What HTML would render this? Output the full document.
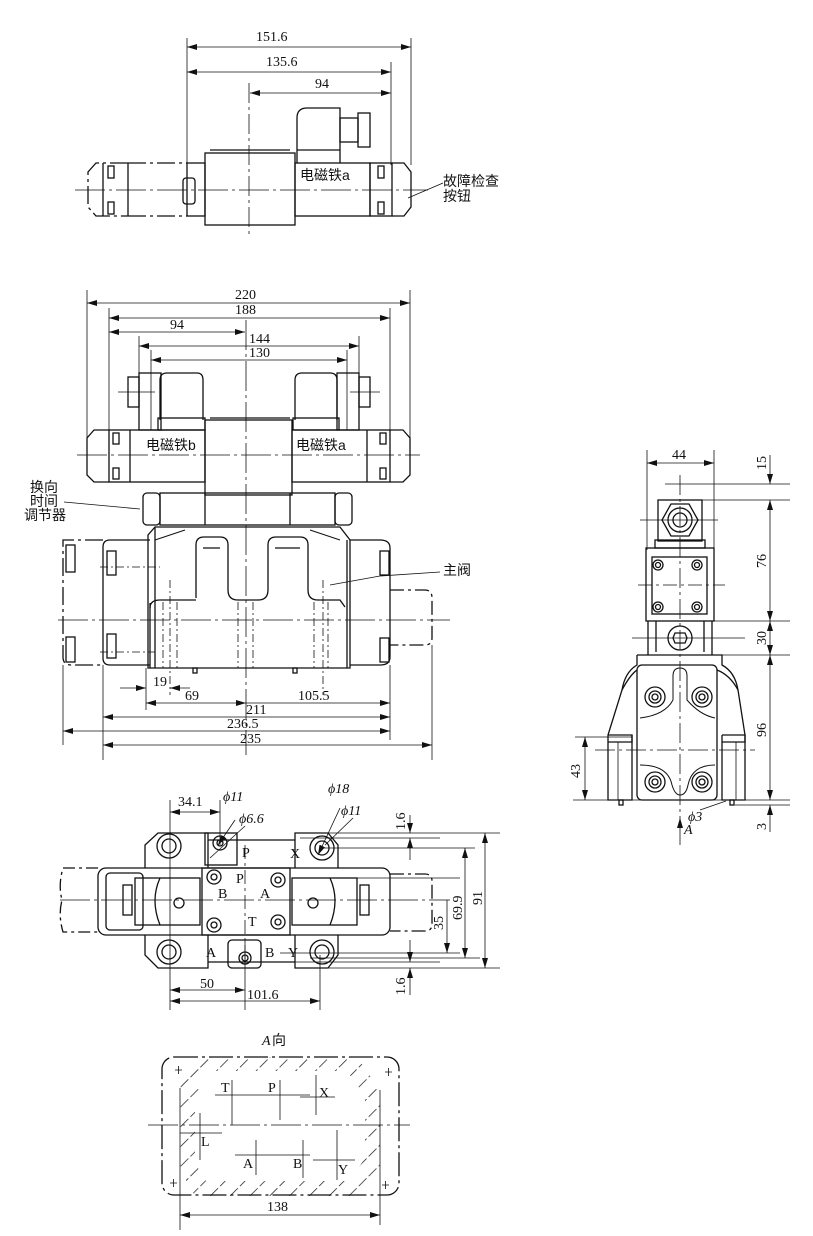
<!DOCTYPE html>
<html><head><meta charset="utf-8"><style>
html,body{margin:0;padding:0;background:#fff}
svg{display:block}
text{font-family:"Liberation Serif","Noto Serif CJK SC",serif;font-size:14px;fill:#111}
.cn{font-family:"Liberation Sans","Noto Sans CJK SC",sans-serif;font-size:14px}
</style></head><body>
<svg width="813" height="1236" viewBox="0 0 813 1236" xmlns="http://www.w3.org/2000/svg">
<defs>
<marker id="a" viewBox="0 0 10 6" refX="10" refY="3" markerWidth="10" markerHeight="6" orient="auto-start-reverse" markerUnits="userSpaceOnUse"><path d="M0,0 L10,3 L0,6 z" fill="#111"/></marker>
<pattern id="h" width="14" height="14" patternUnits="userSpaceOnUse" patternTransform="rotate(45)"><line x1="0" y1="0" x2="0" y2="14" stroke="#111" stroke-width="1.4" stroke-dasharray="11 3"/></pattern>
</defs>
<g fill="none" stroke="#111" stroke-width="1.3">

<!-- ===== TOP VIEW ===== -->
<g stroke-width="0.8">
<line x1="187" y1="38" x2="187" y2="165"/><line x1="411" y1="38" x2="411" y2="165"/>
<line x1="391" y1="62" x2="391" y2="165"/>
<line x1="187" y1="47" x2="411" y2="47" marker-start="url(#a)" marker-end="url(#a)"/>
<line x1="187" y1="72" x2="391" y2="72" marker-start="url(#a)" marker-end="url(#a)"/>
<line x1="250" y1="93" x2="391" y2="93" marker-start="url(#a)" marker-end="url(#a)"/>
<line x1="249" y1="83" x2="249" y2="235" stroke-dasharray="20 4 3 4"/>
<line x1="75" y1="190" x2="428" y2="190" stroke-dasharray="30 4 3 4"/>
<line x1="443" y1="183" x2="408" y2="198"/>
</g>
<path d="M128,163 L96,163 L88,172 L88,207 L96,216 L128,216" stroke-dasharray="18 4 3 4"/>
<line x1="128" y1="163" x2="187" y2="163" stroke-dasharray="18 4 3 4"/>
<line x1="128" y1="216" x2="187" y2="216" stroke-dasharray="18 4 3 4"/>
<line x1="103" y1="163" x2="103" y2="216"/><line x1="128" y1="163" x2="128" y2="216"/>
<rect x="108" y="166" width="6" height="12"/><rect x="108" y="202" width="6" height="12"/>
<rect x="187" y="163" width="18" height="53"/>
<rect x="183" y="178" width="12" height="26" rx="3"/>
<rect x="205" y="153" width="90" height="72"/>
<line x1="210" y1="150" x2="290" y2="150"/>
<path d="M297,163 L297,118 Q297,108 307,108 L340,108 L340,163"/>
<line x1="297" y1="150" x2="340" y2="150"/>
<rect x="340" y="118" width="18" height="24"/><rect x="358" y="113" width="12" height="34"/>
<rect x="295" y="163" width="75" height="53"/>
<rect x="370" y="163" width="22" height="53"/>
<rect x="378" y="166" width="6" height="12"/><rect x="378" y="202" width="6" height="12"/>
<path d="M392,163 L404,163 L411,172 L411,207 L404,216 L392,216"/>

<!-- ===== FRONT VIEW ===== -->
<g stroke-width="0.8">
<line x1="87" y1="290" x2="87" y2="460"/><line x1="410" y1="290" x2="410" y2="460"/>
<line x1="109" y1="308" x2="109" y2="430"/><line x1="390" y1="308" x2="390" y2="430"/>
<line x1="139" y1="336" x2="139" y2="430"/><line x1="359" y1="336" x2="359" y2="430"/>
<line x1="151" y1="350" x2="151" y2="430"/><line x1="347" y1="350" x2="347" y2="430"/>
<line x1="87" y1="303" x2="410" y2="303" marker-start="url(#a)" marker-end="url(#a)"/>
<line x1="109" y1="318" x2="390" y2="318" marker-start="url(#a)" marker-end="url(#a)"/>
<line x1="109" y1="332" x2="245" y2="332" marker-start="url(#a)" marker-end="url(#a)"/>
<line x1="139" y1="346" x2="359" y2="346" marker-start="url(#a)" marker-end="url(#a)"/>
<line x1="151" y1="360" x2="347" y2="360" marker-start="url(#a)" marker-end="url(#a)"/>
<line x1="246" y1="320" x2="246" y2="755" stroke-dasharray="30 4 3 4"/>
<line x1="77" y1="455" x2="420" y2="455" stroke-dasharray="30 4 3 4"/>
<line x1="58" y1="620" x2="450" y2="620" stroke-dasharray="30 4 3 4"/>
<line x1="118" y1="392" x2="155" y2="392"/><line x1="350" y1="392" x2="380" y2="392"/>
<line x1="64" y1="502" x2="140" y2="509"/>
<line x1="380" y1="576" x2="330" y2="585"/><line x1="380" y1="576" x2="440" y2="572"/>
</g>
<path d="M109,430 L94,430 L87,438 L87,475 L94,482 L109,482"/>
<rect x="109" y="430" width="96" height="52"/>
<line x1="130" y1="430" x2="130" y2="482"/>
<rect x="113" y="433" width="6" height="11"/><rect x="113" y="468" width="6" height="11"/>
<rect x="292" y="430" width="98" height="52"/>
<line x1="367" y1="430" x2="367" y2="482"/>
<rect x="380" y="433" width="6" height="11"/><rect x="380" y="468" width="6" height="11"/>
<path d="M390,430 L403,430 L410,438 L410,475 L403,482 L390,482"/>
<rect x="205" y="420" width="87" height="75"/>
<line x1="210" y1="418" x2="290" y2="418"/>
<rect x="139" y="373" width="22" height="57"/>
<path d="M160,420 L160,380 Q160,373 167,373 L197,373 Q203,373 203,380 L203,420"/>
<rect x="158" y="418" width="47" height="12"/>
<rect x="128" y="377" width="11" height="30"/>
<path d="M295,420 L295,380 Q295,373 302,373 L330,373 Q337,373 337,380 L337,420"/>
<rect x="293" y="418" width="46" height="12"/>
<rect x="337" y="373" width="22" height="57"/>
<rect x="359" y="377" width="11" height="30"/>
<text x="146" y="450" class="cn" stroke="none">电磁铁b</text>
<text x="296" y="450" class="cn" stroke="none">电磁铁a</text>
<text x="300" y="180" class="cn" stroke="none">电磁铁a</text>
<rect x="143" y="493" width="17" height="32" rx="4"/>
<rect x="335" y="493" width="17" height="32" rx="4"/>
<rect x="160" y="493" width="175" height="32"/>
<line x1="205" y1="493" x2="205" y2="525"/><line x1="290" y1="493" x2="290" y2="525"/>
<path d="M103,540 L63,540 Q63,540 63,548 L63,657 Q63,665 71,665 L103,665" stroke-dasharray="18 4 3 4"/>
<rect x="66" y="545" width="9" height="27"/><rect x="66" y="637" width="9" height="25"/>
<path d="M150,665 L110,665 Q103,665 103,658 L103,547 Q103,540 110,540 L150,540"/>
<rect x="107" y="551" width="9" height="24"/><rect x="107" y="634" width="9" height="24"/>
<path d="M148,668 L148,535 L155,527 L340,527 L350,540 L350,668 Z"/>
<line x1="155" y1="527" x2="155" y2="668"/>
<path d="M155,540 L185,530 M340,540 L310,530" stroke-width="1"/>
<path d="M196,598 L196,545 Q196,537 204,537 L220,537 Q228,537 228,545 L228,590 Q228,600 238,600 L258,600 Q268,600 268,590 L268,545 Q268,537 276,537 L300,537 Q308,537 308,545 L308,590 Q308,600 318,600 L340,600 L345,607"/>
<line x1="203" y1="548" x2="220" y2="548"/><line x1="275" y1="548" x2="300" y2="548"/>
<path d="M150,608 Q150,600 160,600 L196,600"/>
<line x1="150" y1="603" x2="150" y2="668"/>
<path d="M350,540 L380,540 Q390,540 390,548 L390,657 Q390,665 380,665 L350,665"/>
<line x1="347" y1="540" x2="347" y2="668"/>
<rect x="380" y="551" width="9" height="24"/><rect x="380" y="638" width="9" height="24"/>
<path d="M390,590 L425,590 Q432,590 432,598 L432,638 Q432,645 425,645 L390,645" stroke-dasharray="14 4 3 4"/>
<g stroke-width="0.8" stroke-dasharray="8 3 2 3">
<line x1="163" y1="602" x2="163" y2="668"/><line x1="177" y1="602" x2="177" y2="668"/>
<line x1="238" y1="602" x2="238" y2="668"/><line x1="253" y1="602" x2="253" y2="668"/>
<line x1="314" y1="602" x2="314" y2="668"/><line x1="328" y1="602" x2="328" y2="668"/>
<line x1="170" y1="580" x2="170" y2="695"/><line x1="323" y1="580" x2="323" y2="695"/>
<line x1="100" y1="567" x2="160" y2="567"/><line x1="100" y1="652" x2="155" y2="652"/>
</g>
<rect x="193" y="668" width="4" height="5"/><rect x="293" y="668" width="4" height="5"/>
<g stroke-width="0.8">
<line x1="146" y1="668" x2="146" y2="710"/><line x1="103" y1="665" x2="103" y2="760"/>
<line x1="390" y1="665" x2="390" y2="740"/><line x1="432" y1="645" x2="432" y2="760"/><line x1="63" y1="665" x2="63" y2="745"/>
<line x1="120" y1="688" x2="146" y2="688" marker-end="url(#a)"/><line x1="170" y1="688" x2="190" y2="688" marker-start="url(#a)"/>
<line x1="146" y1="703" x2="246" y2="703" marker-start="url(#a)" marker-end="url(#a)"/>
<line x1="246" y1="703" x2="390" y2="703" marker-end="url(#a)"/>
<line x1="103" y1="717" x2="390" y2="717" marker-start="url(#a)" marker-end="url(#a)"/>
<line x1="63" y1="731" x2="390" y2="731" marker-start="url(#a)" marker-end="url(#a)"/>
<line x1="103" y1="745" x2="432" y2="745" marker-start="url(#a)" marker-end="url(#a)"/>
</g>

<!-- ===== SIDE VIEW ===== -->
<g stroke-width="0.8">
<line x1="647" y1="450" x2="647" y2="550"/><line x1="714" y1="450" x2="714" y2="550"/>
<line x1="647" y1="463" x2="714" y2="463" marker-start="url(#a)" marker-end="url(#a)"/>
<line x1="665" y1="484" x2="790" y2="484"/><line x1="680" y1="500" x2="790" y2="500"/>
<line x1="714" y1="621" x2="790" y2="621"/><line x1="722" y1="655" x2="790" y2="655"/>
<line x1="573" y1="800" x2="790" y2="800"/><line x1="735" y1="805" x2="790" y2="805"/>
<line x1="770" y1="455" x2="770" y2="484" marker-end="url(#a)"/>
<line x1="770" y1="500" x2="770" y2="621" marker-start="url(#a)" marker-end="url(#a)"/>
<line x1="770" y1="621" x2="770" y2="655" marker-start="url(#a)" marker-end="url(#a)"/>
<line x1="770" y1="655" x2="770" y2="800" marker-start="url(#a)" marker-end="url(#a)"/>
<line x1="770" y1="805" x2="770" y2="832" marker-start="url(#a)"/>
<line x1="575" y1="737" x2="632" y2="737"/>
<line x1="585" y1="737" x2="585" y2="800" marker-start="url(#a)" marker-end="url(#a)"/>
<line x1="680" y1="475" x2="680" y2="825" stroke-dasharray="20 4 3 4"/>
<line x1="640" y1="520" x2="718" y2="520"/><line x1="638" y1="585" x2="725" y2="585" stroke-dasharray="14 4 3 4"/>
<line x1="632" y1="638" x2="745" y2="638"/>
<line x1="595" y1="750" x2="755" y2="750" stroke-dasharray="20 4 3 4"/>
<line x1="700" y1="810" x2="726" y2="801"/>
<line x1="680" y1="845" x2="680" y2="818" marker-end="url(#a)"/>
</g>
<rect x="658" y="500" width="44" height="41"/>
<polygon points="671,504 689,504 698,520 689,536 671,536 662,520"/>
<circle cx="680" cy="520" r="12"/><circle cx="680" cy="520" r="7"/>
<rect x="655" y="540" width="50" height="8"/>
<rect x="646" y="548" width="68" height="73"/>
<rect x="652" y="557" width="55" height="57"/>
<circle cx="658" cy="565" r="5"/><circle cx="658" cy="565" r="2.5"/>
<circle cx="697" cy="565" r="5"/><circle cx="697" cy="565" r="2.5"/>
<circle cx="658" cy="607" r="5"/><circle cx="658" cy="607" r="2.5"/>
<circle cx="697" cy="607" r="5"/><circle cx="697" cy="607" r="2.5"/>
<path d="M648,621 L648,655 M656,621 L656,652 M704,621 L704,652 M712,621 L712,655"/>
<circle cx="680" cy="638" r="12"/><polygon points="675,633 685,633 687,638 685,643 675,643 673,638"/>
<path d="M637,655 L722,655 L722,665 Q735,672 738,690 L745,735 L745,800 L722,800 L722,735 M637,655 L637,665 Q625,672 622,690 L608,735 L608,800 L632,800 L632,735"/>
<rect x="637" y="665" width="80" height="135" rx="5"/>
<path d="M608,735 L632,735 L632,742 L608,742 M722,735 L745,735 L745,742 L722,742"/>
<path d="M632,742 L632,800 M618,742 L618,800 M736,742 L736,800" stroke-width="0.8"/>
<path d="M622,690 Q630,675 637,670 M738,690 Q730,675 717,670"/>
<path d="M673,700 L673,676 Q673,668 680,668 Q687,668 687,676 L687,700 Q700,715 715,718" stroke-width="1"/>
<path d="M640,718 Q665,715 673,700" stroke-width="1"/>
<path d="M640,765 Q668,765 672,785 Q675,795 680,795 Q686,795 688,785 Q692,765 715,765" stroke-width="1"/>
<circle cx="655" cy="697" r="10"/><circle cx="655" cy="697" r="6"/><circle cx="655" cy="697" r="3"/>
<circle cx="702" cy="697" r="10"/><circle cx="702" cy="697" r="6"/><circle cx="702" cy="697" r="3"/>
<circle cx="655" cy="782" r="10"/><circle cx="655" cy="782" r="6"/><circle cx="655" cy="782" r="3"/>
<circle cx="702" cy="782" r="10"/><circle cx="702" cy="782" r="6"/><circle cx="702" cy="782" r="3"/>
<rect x="619" y="800" width="4" height="5"/><rect x="730" y="800" width="4" height="5"/>

<!-- ===== BOTTOM VIEW ===== -->
<g stroke-width="0.8">
<line x1="170" y1="800" x2="170" y2="1010"/><line x1="220" y1="800" x2="220" y2="845"/>
<line x1="170" y1="812" x2="220" y2="812" marker-start="url(#a)" marker-end="url(#a)"/>
<line x1="245" y1="940" x2="245" y2="1010"/><line x1="320" y1="955" x2="320" y2="1010"/>
<line x1="170" y1="990" x2="245" y2="990" marker-start="url(#a)" marker-end="url(#a)"/>
<line x1="170" y1="1001" x2="320" y2="1001" marker-start="url(#a)" marker-end="url(#a)"/>
<line x1="300" y1="833" x2="500" y2="833"/><line x1="320" y1="848" x2="475" y2="848"/>
<line x1="300" y1="838" x2="440" y2="838"/>
<line x1="340" y1="878" x2="460" y2="878"/><line x1="280" y1="953" x2="460" y2="953"/>
<line x1="310" y1="958" x2="480" y2="958"/><line x1="290" y1="962" x2="440" y2="962"/>
<line x1="300" y1="968" x2="500" y2="968"/>
<line x1="410" y1="815" x2="410" y2="833" marker-end="url(#a)"/><line x1="410" y1="838" x2="410" y2="860" marker-start="url(#a)"/>
<line x1="410" y1="940" x2="410" y2="962" marker-end="url(#a)"/><line x1="410" y1="968" x2="410" y2="995" marker-start="url(#a)"/>
<line x1="447" y1="900" x2="447" y2="953" marker-end="url(#a)"/>
<line x1="465" y1="848" x2="465" y2="958" marker-start="url(#a)" marker-end="url(#a)"/>
<line x1="485" y1="833" x2="485" y2="968" marker-start="url(#a)" marker-end="url(#a)"/>
<line x1="60" y1="900" x2="450" y2="900" stroke-dasharray="30 4 3 4"/>
<line x1="245" y1="845" x2="245" y2="965" stroke-dasharray="14 4 3 4"/>
<line x1="235" y1="820" x2="218" y2="845" marker-end="url(#a)"/>
<line x1="245" y1="826" x2="210" y2="858"/>
<line x1="340" y1="808" x2="318" y2="855" marker-end="url(#a)"/>
<line x1="353" y1="818" x2="325" y2="845"/>
</g>
<path d="M98,868 L63,868 Q58,885 62,900 Q58,915 63,932 L98,932" stroke-dasharray="12 4 3 4"/>
<path d="M390,874 L425,874 Q432,874 432,881 L432,924 Q432,931 425,931 L390,931" stroke-dasharray="14 4 3 4"/>
<path d="M145,868 L145,845 L158,833 L208,833 L208,868 M338,868 L338,845 L328,833 L295,833 L295,868"/>
<path d="M145,935 L145,955 L158,968 L208,968 L208,935 M338,935 L338,955 L328,968 L295,968 L295,935"/>
<rect x="205" y="833" width="32" height="32"/>
<rect x="228" y="940" width="33" height="28" rx="4"/>
<line x1="208" y1="840" x2="295" y2="840"/><line x1="208" y1="962" x2="295" y2="962"/>
<rect x="98" y="868" width="292" height="67" rx="8"/>
<rect x="106" y="873" width="37" height="57" rx="4"/>
<rect x="202" y="868" width="88" height="67"/>
<rect x="135" y="878" width="65" height="47"/>
<rect x="292" y="878" width="65" height="47"/>
<path d="M160,878 Q150,900 160,925 M330,878 Q340,900 330,925"/>
<rect x="123" y="885" width="9" height="30"/><rect x="360" y="885" width="9" height="30"/>
<circle cx="179" cy="903" r="5"/><circle cx="313" cy="903" r="5"/>
<circle cx="169" cy="846" r="12"/><circle cx="169" cy="846" r="7"/>
<circle cx="322" cy="848" r="12"/><circle cx="322" cy="848" r="7"/>
<circle cx="169" cy="952" r="12"/><circle cx="169" cy="952" r="7"/>
<circle cx="322" cy="952" r="12"/><circle cx="322" cy="952" r="7"/>
<circle cx="220" cy="843" r="7"/><circle cx="220" cy="843" r="3"/>
<circle cx="214" cy="877" r="7"/><circle cx="214" cy="877" r="3"/>
<circle cx="278" cy="880" r="7"/><circle cx="278" cy="880" r="3"/>
<circle cx="214" cy="925" r="7"/><circle cx="214" cy="925" r="3"/>
<circle cx="278" cy="922" r="7"/><circle cx="278" cy="922" r="3"/>
<circle cx="245" cy="958" r="6"/><circle cx="245" cy="958" r="3"/>

<!-- ===== A VIEW ===== -->
<rect x="162" y="1057" width="237" height="138" rx="12" stroke-dasharray="24 4 3 4"/>
<polygon points="195,1057 357,1057 380,1090 380,1165 360,1196 195,1196 180,1170 180,1088" fill="url(#h)" stroke="none"/>
<polygon points="208,1071 347,1071 365,1097 365,1158 350,1181 206,1181 195,1163 195,1097" fill="#fff" stroke="none"/>
<line x1="180" y1="1088" x2="180" y2="1230" stroke-width="0.8"/><line x1="380" y1="1090" x2="380" y2="1225" stroke-width="0.8"/>
<line x1="180" y1="1215" x2="380" y2="1215" stroke-width="0.8" marker-start="url(#a)" marker-end="url(#a)"/>
<line x1="148" y1="1125" x2="410" y2="1125" stroke-width="0.8" stroke-dasharray="30 4 3 4"/>
<g stroke-width="0.8">
<path d="M215,1095 L310,1095 M300,1097 L335,1097 M232,1080 L232,1125 M280,1080 L280,1120 M316,1075 L316,1115 M200,1113 L200,1160 M180,1133 L222,1133 M235,1155 L310,1155 M313,1160 L355,1160 M256,1140 L256,1175 M303,1140 L303,1178 M337,1130 L337,1180"/>
<path d="M175,1070 h7 M178.5,1066 v8 M385,1072 h7 M388.5,1068 v8 M170,1183 h7 M173.5,1179 v8 M382,1185 h7 M385.5,1181 v8"/>
</g>
</g>

<!-- TEXT -->
<g>
<text x="256" y="41">151.6</text>
<text x="266" y="66">135.6</text>
<text x="315" y="88">94</text>
<text x="443" y="186" class="cn">故障检查</text>
<text x="443" y="201" class="cn">按钮</text>
<text x="235" y="299">220</text>
<text x="235" y="314">188</text>
<text x="170" y="329">94</text>
<text x="249" y="343">144</text>
<text x="249" y="357">130</text>
<text x="30" y="492" class="cn">换向</text>
<text x="30" y="506" class="cn">时间</text>
<text x="24" y="520" class="cn">调节器</text>
<text x="443" y="575" class="cn">主阀</text>
<text x="153" y="686">19</text>
<text x="185" y="700">69</text>
<text x="298" y="700">105.5</text>
<text x="246" y="714">211</text>
<text x="227" y="728">236.5</text>
<text x="240" y="743">235</text>
<text x="672" y="459">44</text>
<text transform="translate(766,470) rotate(-90)">15</text>
<text transform="translate(766,568) rotate(-90)">76</text>
<text transform="translate(766,645) rotate(-90)">30</text>
<text transform="translate(766,737) rotate(-90)">96</text>
<text transform="translate(766,830) rotate(-90)">3</text>
<text transform="translate(580,778) rotate(-90)">43</text>
<text x="688" y="821" font-style="italic">ϕ3</text>
<text x="684" y="834" font-style="italic">A</text>
<text x="178" y="806">34.1</text>
<text x="223" y="801" font-style="italic">ϕ11</text>
<text x="239" y="823" font-style="italic">ϕ6.6</text>
<text x="328" y="793" font-style="italic">ϕ18</text>
<text x="341" y="815" font-style="italic">ϕ11</text>
<text x="242" y="857">P</text>
<text x="290" y="858">X</text>
<text x="236" y="883">P</text>
<text x="218" y="898">B</text>
<text x="260" y="898">A</text>
<text x="248" y="926">T</text>
<text x="206" y="957">A</text>
<text x="265" y="957">B</text>
<text x="288" y="957">Y</text>
<text x="200" y="988">50</text>
<text x="247" y="999">101.6</text>
<text transform="translate(405,830) rotate(-90)">1.6</text>
<text transform="translate(405,995) rotate(-90)">1.6</text>
<text transform="translate(443,930) rotate(-90)">35</text>
<text transform="translate(462,920) rotate(-90)">69.9</text>
<text transform="translate(482,905) rotate(-90)">91</text>
<text x="262" y="1045" font-style="italic">A</text><text x="272" y="1045" class="cn">向</text>
<text x="221" y="1092">T</text>
<text x="268" y="1092">P</text>
<text x="319" y="1097">X</text>
<text x="201" y="1146">L</text>
<text x="243" y="1168">A</text>
<text x="293" y="1168">B</text>
<text x="338" y="1174">Y</text>
<text x="267" y="1211">138</text>
</g>
</svg>
</body></html>
